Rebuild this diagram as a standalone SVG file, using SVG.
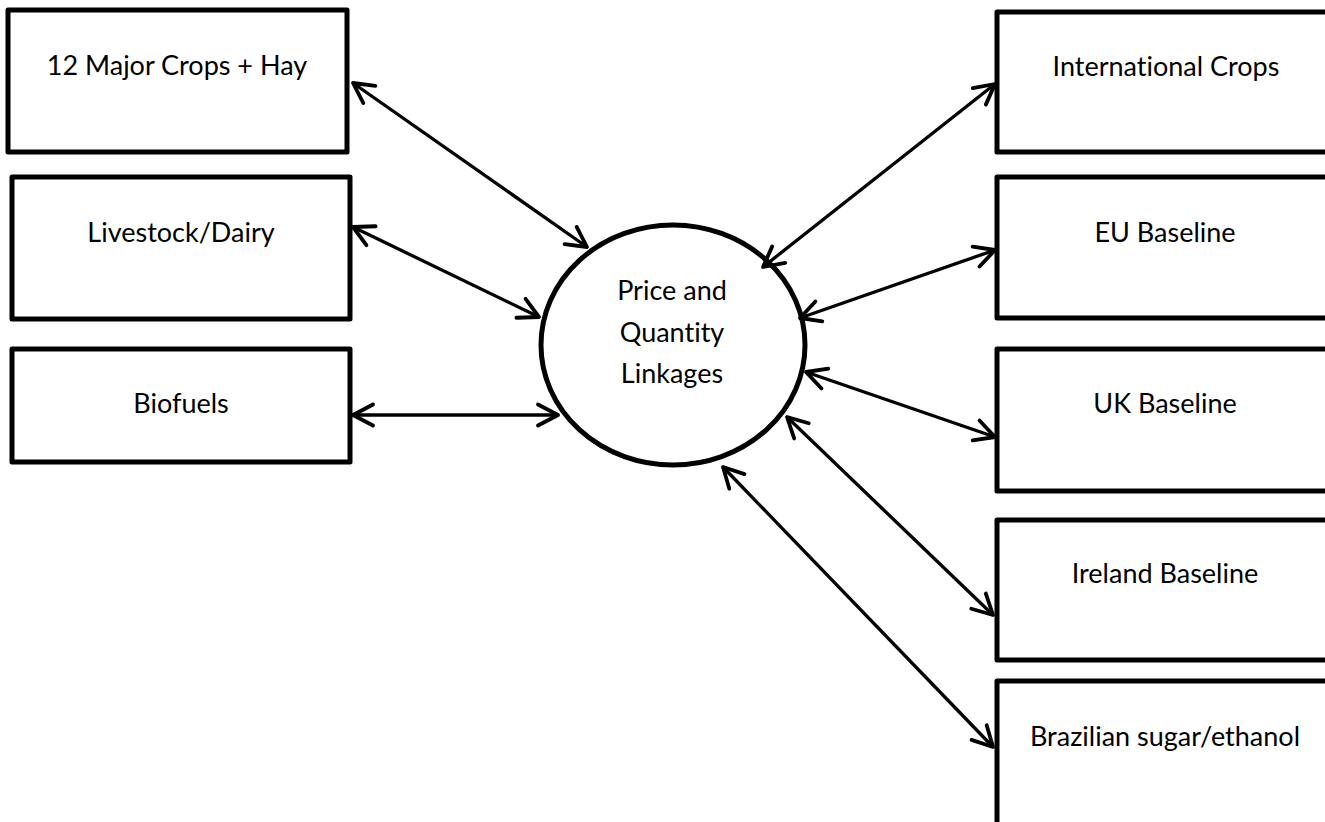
<svg xmlns="http://www.w3.org/2000/svg" width="1325" height="822" viewBox="0 0 1325 822">
<style>
.box{fill:#fff;stroke:#000;stroke-width:5;stroke-linejoin:round}
.lbl{font-family:Lato,"Open Sans",sans-serif;font-size:27px;fill:#000;text-anchor:middle;font-variant-ligatures:none;font-feature-settings:"liga" 0}
.con{stroke:#000;stroke-width:3.3;fill:none;marker-start:url(#ah);marker-end:url(#ah)}
</style>
<defs>
<marker id="ah" markerUnits="userSpaceOnUse" viewBox="-26 -16 30 32" markerWidth="30" markerHeight="32" refX="0" refY="0" orient="auto-start-reverse">
<path d="M -20 -10.5 L 0 0 L -20 10.5" fill="none" stroke="#000" stroke-width="3.8" stroke-linecap="round" stroke-linejoin="round"/>
</marker>
</defs>
<rect width="1325" height="822" fill="#fff"/>
<g id="n-crops"><rect class="box" x="8" y="10" width="339" height="142"/><text class="lbl" x="177" y="75">12 Major Crops + Hay</text></g>
<g id="n-livestock"><rect class="box" x="12" y="177" width="338" height="142"/><text class="lbl" x="181" y="242">Livestock/Dairy</text></g>
<g id="n-biofuels"><rect class="box" x="12" y="349" width="338" height="113"/><text class="lbl" x="181" y="413">Biofuels</text></g>
<g id="n-center"><ellipse cx="673" cy="345" rx="132" ry="120" fill="#fff" stroke="#000" stroke-width="5"/>
<text class="lbl" x="672" y="300">Price and</text><text class="lbl" x="672" y="342">Quantity</text><text class="lbl" x="672" y="383">Linkages</text></g>
<g id="n-intl"><rect class="box" x="997" y="12" width="345" height="140"/><text class="lbl" x="1166" y="76">International Crops</text></g>
<g id="n-eu"><rect class="box" x="997" y="177" width="345" height="141"/><text class="lbl" x="1165" y="242">EU Baseline</text></g>
<g id="n-uk"><rect class="box" x="997" y="349" width="345" height="142"/><text class="lbl" x="1165" y="413">UK Baseline</text></g>
<g id="n-ireland"><rect class="box" x="997" y="520" width="345" height="140"/><text class="lbl" x="1165" y="583">Ireland Baseline</text></g>
<g id="n-brazil"><rect class="box" x="997" y="681" width="345" height="150"/><text class="lbl" x="1165" y="746">Brazilian sugar/ethanol</text></g>
<g id="connectors">
<line class="con" x1="353" y1="83" x2="587" y2="247"/>
<line class="con" x1="353" y1="227" x2="539" y2="317"/>
<line class="con" x1="353" y1="415" x2="558" y2="415"/>
<line class="con" x1="995" y1="84" x2="763" y2="267"/>
<line class="con" x1="995" y1="250" x2="800" y2="318"/>
<line class="con" x1="806" y1="372" x2="995" y2="437"/>
<line class="con" x1="787" y1="417" x2="993" y2="615"/>
<line class="con" x1="723" y1="467" x2="993" y2="747"/>
</g>
</svg>
